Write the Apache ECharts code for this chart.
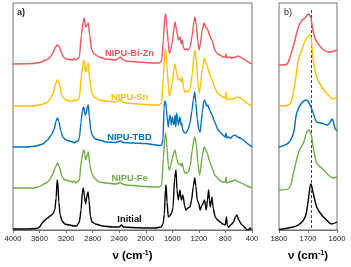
<!DOCTYPE html>
<html><head><meta charset="utf-8">
<script src="https://cdn.jsdelivr.net/npm/echarts@6/dist/echarts.min.js"></script>
<style>html,body{margin:0;padding:0;background:#fff}#c{width:351px;height:267px}</style>
</head><body><div id="c"></div>
<script>
// ---- data (wavenumber cm-1, relative absorbance in arbitrary units) ----
const seriesNames = ['NIPU-Bi-Zn','NIPU-Sn','NIPU-TBD','NIPU-Fe','Initial'];
const ticksA = [4000,3600,3200,2800,2400,2000,1600,1200,800,400];
const ticksB = [1800,1700,1600];
const dashedMarker = 1690;

const biZnA = [[4000,0],[3700,0.5],[3600,1.5],[3500,4],[3450,6],[3400,11],[3360,17],[3330,19],[3300,17],[3270,11],[3240,7],[3200,5],[3100,4],[3080,5.5],[3050,4],[3000,7],[2970,29],[2945,42],[2930,46],[2905,37],[2880,39],[2865,41],[2845,29],[2815,14],[2780,10],[2700,7],[2600,5],[2450,4],[2380,7],[2350,4.5],[2300,3],[2100,2],[1900,1],[1800,1],[1760,3],[1735,24],[1715,46],[1700,50],[1680,36],[1660,20],[1645,11],[1625,14],[1600,22],[1580,33],[1560,42],[1535,34],[1510,24],[1485,27],[1465,20],[1450,24],[1430,16],[1410,14],[1390,15],[1360,14],[1330,17],[1300,29],[1275,42],[1260,47],[1240,39],[1215,22],[1195,14],[1180,19],[1150,34],[1120,41],[1100,37],[1070,35],[1040,29],[1000,23],[960,14],[920,10],[880,9],[840,7],[800,7],[790,10],[780,6],[750,7],[700,6],[650,7],[610,8],[580,7],[530,5],[480,3],[430,1],[400,0]];
const snA = [[4000,0],[3700,0],[3600,1],[3500,3],[3450,6],[3400,12],[3360,22],[3330,26],[3300,22],[3270,12],[3240,8],[3200,6],[3150,5],[3100,5],[3080,6.5],[3050,5],[3000,8],[2970,30],[2945,42],[2930,46],[2905,34],[2880,40],[2865,43],[2845,28],[2815,13],[2780,9],[2700,6],[2600,5],[2450,4],[2380,6],[2350,4],[2300,3],[2100,2],[1900,1],[1800,1],[1760,3],[1735,30],[1715,52],[1700,57],[1680,40],[1660,20],[1645,10],[1625,14],[1600,25],[1580,36],[1560,42],[1535,33],[1510,26],[1485,27],[1465,24],[1450,29],[1430,18],[1410,14],[1390,15],[1360,14],[1330,18],[1300,32],[1275,50],[1260,56],[1240,45],[1215,24],[1195,13],[1180,18],[1150,37],[1120,48],[1100,44],[1070,39],[1040,32],[1000,26],[960,18],[920,13],[880,11],[840,9],[800,8],[790,14],[780,6],[750,7],[700,7],[650,8],[620,9],[580,8],[530,6],[480,3],[430,1],[400,0]];
const tbdA = [[4000,0],[3800,0],[3650,1],[3550,3],[3480,7],[3420,12],[3380,18],[3350,26],[3330,29],[3310,26],[3280,16],[3250,10],[3200,7],[3150,6],[3100,5],[3080,4],[3060,5],[3020,6],[3000,9],[2975,25],[2955,36],[2940,40],[2930,39],[2915,32],[2900,33],[2880,40],[2866,42],[2850,30],[2830,18],[2810,12],[2760,8],[2700,7],[2600,5],[2450,4.5],[2380,6],[2340,4.5],[2200,4],[2000,3.5],[1900,2.5],[1800,1.5],[1760,2],[1740,8],[1725,40],[1712,46],[1700,44],[1690,38],[1678,30],[1661,20],[1650,26],[1636,32],[1625,28],[1615,22],[1600,30],[1590,26],[1575,22],[1560,32],[1548,20],[1535,34],[1520,28],[1510,22],[1497,27],[1485,30],[1470,22],[1460,24],[1445,18],[1430,15],[1400,14],[1384,15],[1360,18],[1334,24],[1305,36],[1285,47],[1262,55],[1245,44],[1225,28],[1200,17],[1180,15],[1165,25],[1150,35],[1120,47],[1100,45],[1085,41],[1064,42],[1040,37],[1000,32],[975,27],[955,24],[920,18],[880,15],[840,12],[805,10],[790,14],[780,9],[760,10],[720,9],[690,11],[655,12],[620,10],[580,9],[530,7],[480,4],[440,2],[400,0]];
const feA = [[4000,0],[3700,0],[3620,1],[3500,5],[3450,8],[3400,14],[3360,21],[3330,25],[3300,21],[3270,13],[3240,9],[3200,8],[3150,7],[3100,6],[3080,7],[3050,5],[3000,8],[2970,28],[2945,36],[2930,38],[2905,28],[2880,33],[2865,36],[2845,24],[2815,15],[2780,10],[2700,6],[2600,5],[2450,4],[2380,5.5],[2350,4],[2300,3],[2100,2],[1900,1],[1800,1],[1760,3],[1735,30],[1715,50],[1700,55],[1680,40],[1660,22],[1645,18],[1625,22],[1600,30],[1580,35],[1560,38],[1535,30],[1510,24],[1485,24],[1465,22],[1450,25],[1430,18],[1410,15],[1384,15],[1360,16],[1330,22],[1300,38],[1275,48],[1260,51],[1240,44],[1215,25],[1190,13],[1180,15],[1150,32],[1120,41],[1100,39],[1070,34],[1040,27],[1000,20],[960,13],[920,10],[880,7],[840,6],[800,6],[790,11],[780,5],[750,6],[700,7],[655,8],[600,6],[530,4],[480,2],[430,1],[400,0]];
const initialA = [[4000,1],[3800,1],[3640,1.5],[3600,3],[3560,7],[3520,10],[3480,12],[3440,14],[3400,16],[3370,20],[3350,32],[3335,50],[3325,48],[3310,28],[3290,15],[3260,9],[3220,6],[3150,5],[3080,4],[3040,4],[3000,8],[2975,20],[2955,38],[2940,42],[2925,34],[2905,26],[2890,33],[2870,38],[2855,30],[2835,14],[2810,8],[2760,6],[2650,4],[2500,3],[2400,3],[2365,5],[2335,3],[2200,2.5],[2000,2],[1850,2],[1770,3],[1740,6],[1720,16],[1705,40],[1694,45],[1680,28],[1661,13],[1640,14],[1611,17],[1590,22],[1565,52],[1545,60],[1530,40],[1510,30],[1495,36],[1485,40],[1470,32],[1460,30],[1445,35],[1435,33],[1415,24],[1395,20],[1365,22],[1334,23],[1310,30],[1285,43],[1262,52],[1245,44],[1225,30],[1204,27],[1180,20],[1160,24],[1140,26],[1115,30],[1100,24],[1090,20],[1070,30],[1054,40],[1040,30],[1029,23],[1015,28],[1004,33],[985,22],[954,13],[920,10],[878,8],[840,6],[803,5],[785,13],[770,4],[752,3],[720,5],[677,8],[650,13],[627,15],[600,10],[552,5],[500,2],[477,0],[440,1],[427,2],[410,0],[400,0]];

const biZnB = [[1800,-1],[1775,-0.5],[1762,7],[1745,24],[1733,37],[1720,44],[1710,46],[1699,50],[1690,46],[1682,32],[1670,22],[1653,16],[1640,13],[1630,12],[1615,12.5],[1600,14]];
const snB = [[1800,0],[1775,0.5],[1760,3],[1745,23],[1733,46],[1722,56],[1705,68],[1693,71],[1682,46],[1670,29],[1653,19],[1630,11],[1613,7],[1600,9]];
const tbdB = [[1800,0],[1768,4],[1750,14],[1739,34],[1722,44],[1705,47],[1693,42],[1682,34],[1670,25],[1653,24],[1636,22],[1625,24],[1617,28],[1607,19],[1600,16]];
const feB = [[1800,-2],[1768,-1],[1750,15],[1733,35],[1716,45],[1699,58],[1690,55],[1682,41],[1670,25],[1653,20],[1630,13],[1613,10],[1600,11]];
const initialB = [[1800,0.5],[1768,2],[1733,5],[1710,13],[1699,30],[1690,46],[1682,37],[1670,23],[1653,15],[1636,10],[1619,6],[1600,8]];

// ---- presentation ----
const colors = ['#F2545B','#FFC000','#0070C0','#70AD47','#000000'];
const offsets = [166,124,83,42,0];
const labelAnchor = [[2245,177],[2245,133],[2245,93],[2245,52],[2245,11]];
const panelA = [biZnA, snA, tbdA, feA, initialA];
const panelB = [biZnB, snB, tbdB, feB, initialB];
const FONT = 'Liberation Sans, Arial, sans-serif';
const frame = '#707070';

const chart = echarts.init(document.getElementById('c'), null, {renderer:'canvas'});

function xAxisCfg(gridIndex, ticks){
  const mn = Math.min(...ticks), mx = Math.max(...ticks);
  return {
    type:'value', gridIndex, inverse:true, min:mn, max:mx, interval: ticks[0]-ticks[1],
    axisLine:{show:true, lineStyle:{color:frame, width:1}},
    axisTick:{show:true, inside:false, length:3, lineStyle:{color:frame}},
    splitLine:{show:false},
    axisLabel:{show:true, fontSize:7.6, color:'#222', margin:5, fontFamily:FONT, showMinLabel:true, showMaxLabel:true,
      formatter: v => String(v)},
    name:'{n|ν (cm}{s|-1}{n|)}', nameLocation:'middle', nameGap:20,
    nameTextStyle:{fontFamily:FONT, rich:{
      n:{fontSize:11.5, fontWeight:'bold', color:'#000', fontFamily:FONT},
      s:{fontSize:7, fontWeight:'bold', color:'#000', verticalAlign:'top', fontFamily:FONT}
    }}
  };
}
function yAxisCfg(gridIndex){
  return {type:'value', gridIndex, min:0, max:227, show:false};
}

const series = [];
panelA.forEach((arr,i)=>{
  series.push({
    type:'line', xAxisIndex:0, yAxisIndex:0, name:seriesNames[i],
    data: arr.map(p=>[p[0], p[1]+offsets[i]]),
    showSymbol:false, symbol:'none', smooth:0.2, smoothMonotone:'x',
    lineStyle:{color:colors[i], width:1.4}, z: 10-i,
    silent:true, animation:false,
    markPoint:{symbol:'circle', symbolSize:1, itemStyle:{color:'rgba(0,0,0,0)'}, silent:true, animation:false,
      label:{show:true, position:'inside', formatter:seriesNames[i], color:colors[i], fontWeight:'bold', fontSize:9.3, fontFamily:FONT},
      data:[{coord:labelAnchor[i]}]}
  });
});
panelB.forEach((arr,i)=>{
  const s = {
    type:'line', xAxisIndex:1, yAxisIndex:1, name:seriesNames[i]+' b',
    data: arr.map(p=>[p[0], p[1]+offsets[i]]),
    showSymbol:false, symbol:'none', smooth:0.35, lineStyle:{color:colors[i], width:1.4}, z: 10-i,
    silent:true, animation:false
  };
  if(i===4){
    s.markLine = {symbol:'none', silent:true, animation:false, label:{show:false},
      lineStyle:{type:[3,2], color:'#444', width:1},
      data:[[{coord:[dashedMarker,220]},{coord:[dashedMarker,0]}]]};
  }
  series.push(s);
});

chart.setOption({
  animation:false,
  backgroundColor:'#fff',
  grid:[
    {left:13, right:99, top:3, bottom:37, show:true, borderColor:frame, borderWidth:1, backgroundColor:'rgba(0,0,0,0)'},
    {left:279, right:14, top:3, bottom:37, show:true, borderColor:frame, borderWidth:1, backgroundColor:'rgba(0,0,0,0)'}
  ],
  xAxis:[xAxisCfg(0,ticksA), xAxisCfg(1,ticksB)],
  yAxis:[yAxisCfg(0), yAxisCfg(1)],
  graphic:[
    {type:'text', left:17, top:8, style:{text:'a)', fontSize:9, fontWeight:'bold', fill:'#222', fontFamily:FONT}},
    {type:'text', left:284, top:8, style:{text:'b)', fontSize:9, fill:'#222', fontFamily:FONT}}
  ],
  series
});
</script></body></html>
